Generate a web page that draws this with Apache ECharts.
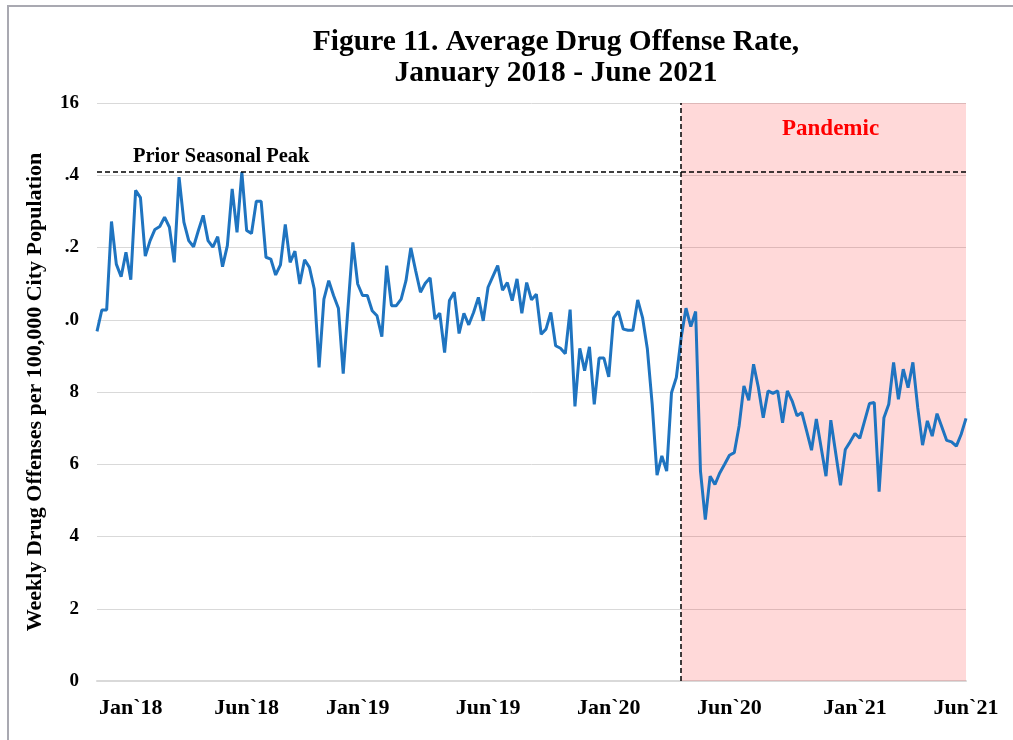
<!DOCTYPE html>
<html>
<head>
<meta charset="utf-8">
<script src="https://cdn.jsdelivr.net/npm/echarts@6.0.0/dist/echarts.min.js"></script>
<style>
  body { margin: 0; background: #fff; }
  #chart { position: absolute; left: 0; top: 0; width: 1013px; height: 740px; }
  .frame { position: absolute; left: 7px; top: 5px; width: 1020px; height: 760px;
           border-left: 2px solid #a9a9b1; border-top: 2px solid #a9a9b1; pointer-events: none; }
</style>
</head>
<body>
<div id="chart"></div>
<div class="frame"></div>
<script>
// weekly averages (Jan 2018 - Jun 2021)
let rates = [
  9.68, 10.27, 10.27, 12.72, 11.54, 11.19, 11.87, 11.11, 13.58, 13.38,
  11.76, 12.19, 12.50, 12.58, 12.84, 12.56, 11.59, 13.95, 12.70, 12.19,
  12.02, 12.47, 12.89, 12.19, 12.01, 12.30, 11.47, 12.05, 13.62, 12.42,
  14.09, 12.47, 12.39, 13.28, 13.28, 11.73, 11.68, 11.24, 11.52, 12.64,
  11.59,
  11.90, 10.99, 11.66, 11.45, 10.85, 8.68, 10.57, 11.08, 10.67, 10.32,
  8.51, 10.34, 12.14, 10.99, 10.67, 10.67, 10.25, 10.11, 9.53, 11.50,
  10.39, 10.39, 10.57, 11.08, 11.99, 11.36, 10.76, 11.01, 11.16, 10.02,
  10.18, 9.09, 10.53, 10.76, 9.62, 10.18, 9.86, 10.20, 10.62,
  9.97, 10.90, 11.20, 11.50, 10.82, 11.03, 10.53, 11.13, 10.18, 11.03,
  10.55, 10.71, 9.60, 9.74, 10.20, 9.28, 9.21, 9.06, 10.28, 7.60,
  9.21, 8.59, 9.25, 7.66, 8.94, 8.94, 8.42, 10.05, 10.23, 9.74,
  9.71, 9.71, 10.55, 10.06, 9.19, 7.66, 5.70, 6.23, 5.81, 7.98,
  8.40, 9.51, 10.32, 9.81,
  10.23, 5.81, 4.47, 5.67, 5.44, 5.76, 6.00, 6.25, 6.32, 7.06,
  8.17, 7.77, 8.77, 8.12, 7.29, 8.03, 7.96, 8.03, 7.15, 8.03,
  7.75, 7.34, 7.43, 6.92, 6.39, 7.25,
  6.46, 5.67, 7.22, 6.32, 5.42, 6.41, 6.62, 6.85, 6.72, 7.20,
  7.68, 7.71, 5.24, 7.29, 7.66, 8.82, 7.80, 8.63, 8.12, 8.82,
  7.57, 6.53, 7.20, 6.78, 7.40, 7.03, 6.66, 6.62, 6.50, 6.83,
  7.27
]

// x labels and the week they sit under
let monthLabels = ['Jan`18', 'Jun`18', 'Jan`19', 'Jun`19', 'Jan`20', 'Jun`20', 'Jan`21', 'Jun`21']
let monthIndex = [7, 31, 54, 81, 106, 131, 157, 180]

// y tick labels as printed (the leading 1 is cut off in the figure)
let yTickValues = [0, 2, 4, 6, 8, 10, 12, 14, 16]
let yTickLabels = ['0', '2', '4', '6', '8', '.0', '.2', '.4', '16']

let priorPeak = 14.1
let pandemicStart = 121

let weeks = []
let start = new Date(2018, 0, 1)
for (let i = 0; i < rates.length; i++) {
    let d = new Date(start.getTime() + i * 7 * 86400000)
    weeks.push(d.toISOString().slice(0, 10))
}

let serif = '"Liberation Serif", "Times New Roman", serif'

let EC = echarts.init(document.getElementById('chart'))
let option = {
    animation: false,
    title: {
        text: 'Figure 11. Average Drug Offense Rate,\nJanuary 2018 - June 2021',
        left: 551,
        textAlign: 'center',
        top: 22,
        textStyle: {
            fontFamily: serif,
            fontWeight: 'bold',
            fontSize: 29.5,
            lineHeight: 31,
            color: '#000'
        }
    },
    grid: { left: 97, right: 47, top: 103, bottom: 59 },
    xAxis: {
        type: 'category',
        data: weeks,
        boundaryGap: false,
        axisLine: { lineStyle: { color: '#d9d9d9', width: 2 } },
        axisTick: { show: false },
        axisLabel: {
            interval: (i) => monthIndex.indexOf(i) !== -1,
            formatter: (v, i) => monthLabels[monthIndex.indexOf(i)] || '',
            margin: 16,
            fontFamily: serif,
            fontWeight: 'bold',
            fontSize: 22,
            color: '#000'
        },
        splitLine: { show: false }
    },
    yAxis: {
        type: 'value',
        min: 0,
        max: 16,
        interval: 2,
        name: 'Weekly Drug Offenses per 100,000 City Population',
        nameLocation: 'middle',
        nameGap: 51,
        nameTextStyle: {
            fontFamily: serif,
            fontWeight: 'bold',
            fontSize: 22,
            color: '#000'
        },
        axisLine: { show: false },
        axisTick: { show: false },
        axisLabel: {
            margin: 18,
            formatter: (v) => yTickLabels[yTickValues.indexOf(v)],
            fontFamily: serif,
            fontWeight: 'bold',
            fontSize: 19,
            color: '#000'
        },
        splitLine: { lineStyle: { color: '#d9d9d9', width: 1 } }
    },
    series: [
        {
            type: 'line',
            data: rates,
            symbol: 'none',
            z: 2,
            lineStyle: { color: '#1f74c0', width: 3 },
            markLine: {
                silent: true,
                symbol: 'none',
                lineStyle: { color: '#000', type: [5, 3], width: 1.5 },
                data: [
                    {
                        yAxis: priorPeak,
                        label: {
                            show: true,
                            formatter: 'Prior Seasonal Peak',
                            position: 'insideStartTop',
                            distance: [36, 4],
                            fontFamily: serif,
                            fontWeight: 'bold',
                            fontSize: 20.5,
                            color: '#000'
                        }
                    },
                    { xAxis: pandemicStart, label: { show: false } }
                ]
            }
        },
        {
            // shaded pandemic period drawn over the line
            type: 'line',
            data: [],
            z: 3,
            markArea: {
                silent: true,
                itemStyle: { color: 'rgba(255, 0, 0, 0.15)' },
                label: {
                    show: true,
                    position: 'insideTop',
                    distance: 15,
                    offset: [7, 0],
                    fontFamily: serif,
                    fontWeight: 'bold',
                    fontSize: 23,
                    color: '#ff0000'
                },
                data: [[{ name: 'Pandemic', xAxis: pandemicStart }, { xAxis: rates.length - 1 }]]
            }
        }
    ]
}
EC.setOption(option)
</script>
</body>
</html>
